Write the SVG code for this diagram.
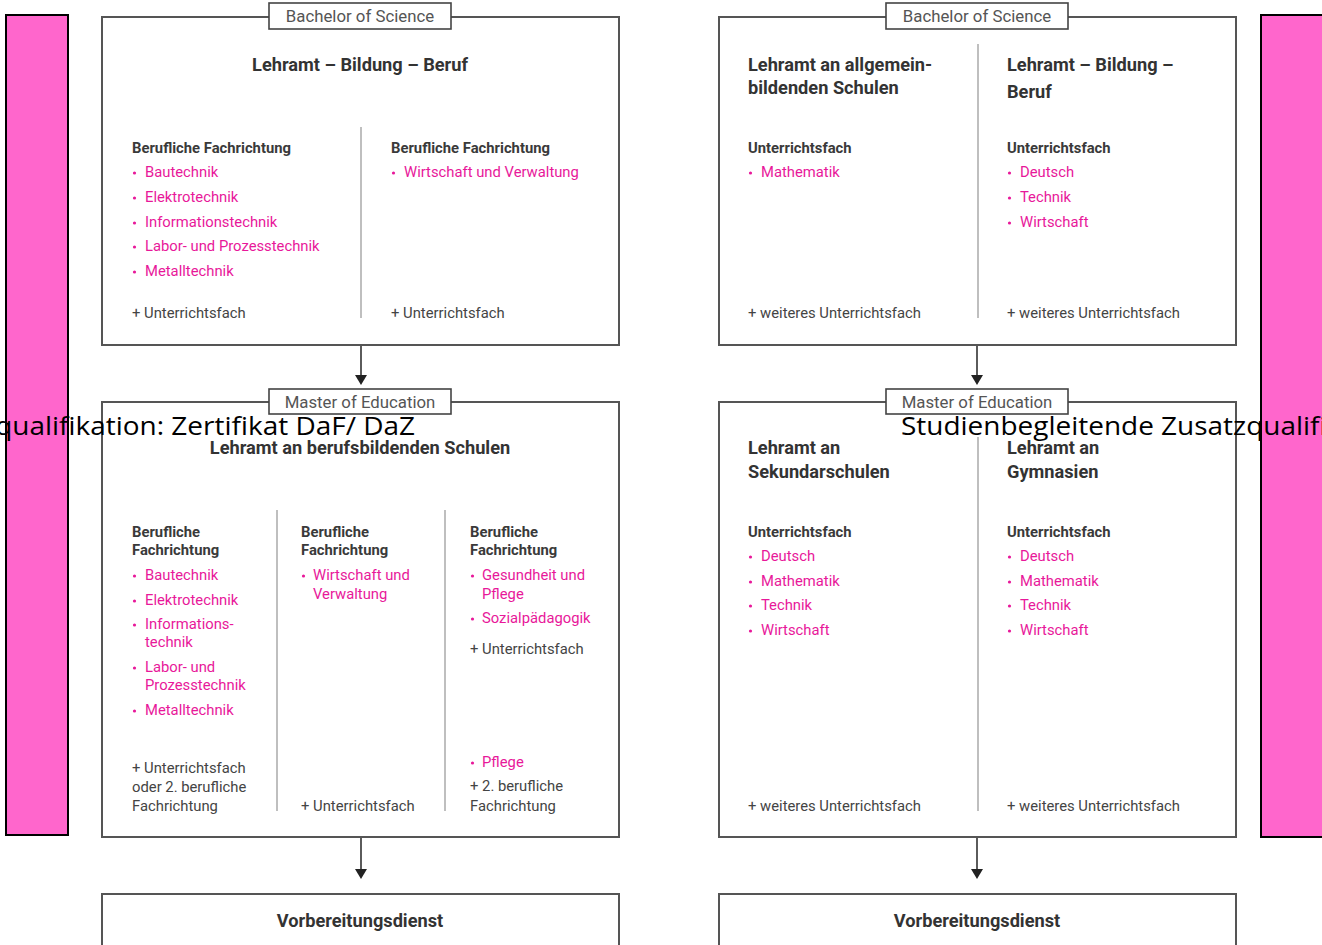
<svg xmlns="http://www.w3.org/2000/svg" width="1322" height="945" viewBox="0 0 1322 945">
<style>
.box{fill:#fff;stroke:#555;stroke-width:2}
.tab{fill:#fff;stroke:#444;stroke-width:1.6}
.tabt{font-family:Roboto,"Liberation Sans",sans-serif;font-size:16.8px;fill:#555;text-anchor:middle}
.title{font-family:Roboto,"Liberation Sans",sans-serif;font-size:18.2px;font-weight:bold;fill:#333}
.mid{text-anchor:middle}
.h{font-family:Roboto,"Liberation Sans",sans-serif;font-size:14.8px;font-weight:bold;fill:#3a3a3a}
.p{font-family:Roboto,"Liberation Sans",sans-serif;font-size:14.8px;fill:#e8189a}
.g{font-family:Roboto,"Liberation Sans",sans-serif;font-size:14.8px;fill:#444}
.div{stroke:#aaa;stroke-width:1.5}
.dot{fill:#e8189a}
.bar{fill:#ff66cc;stroke:#000;stroke-width:2}
.side{font-family:"Open Sans","Noto Sans",sans-serif;font-size:25px;fill:#000}
.conn{stroke:#333;stroke-width:1.6;fill:none}
.head{fill:#222}
</style>

<g id="side-left">
<rect class="bar" x="6" y="15" width="62" height="820"/>
</g>
<g id="side-right">
<rect class="bar" x="1261" y="15" width="70" height="822"/>
</g>

<g id="connectors">
<line class="conn" x1="361" y1="345" x2="361" y2="376"/>
<path class="head" d="M355,375 L367,375 L361,385 Z"/>
<line class="conn" x1="977" y1="345" x2="977" y2="376"/>
<path class="head" d="M971,375 L983,375 L977,385 Z"/>
<line class="conn" x1="361" y1="837" x2="361" y2="870"/>
<path class="head" d="M355,869 L367,869 L361,879 Z"/>
<line class="conn" x1="977" y1="837" x2="977" y2="870"/>
<path class="head" d="M971,869 L983,869 L977,879 Z"/>
</g>

<g id="bsc-left">
<rect class="box" x="102" y="17" width="517" height="328"/>
<rect class="tab" x="269" y="3" width="182" height="26"/>
<text class="tabt" x="360" y="22">Bachelor of Science</text>
<text class="title mid" x="360" y="71">Lehramt – Bildung – Beruf</text>
<line class="div" x1="361" y1="127" x2="361" y2="318"/>
<text class="h" x="132" y="153">Berufliche Fachrichtung</text>
<circle class="dot" cx="134.5" cy="173" r="1.6"/><text class="p" x="145" y="177">Bautechnik</text>
<circle class="dot" cx="134.5" cy="198" r="1.6"/><text class="p" x="145" y="202">Elektrotechnik</text>
<circle class="dot" cx="134.5" cy="223" r="1.6"/><text class="p" x="145" y="227">Informationstechnik</text>
<circle class="dot" cx="134.5" cy="247" r="1.6"/><text class="p" x="145" y="251">Labor- und Prozesstechnik</text>
<circle class="dot" cx="134.5" cy="272" r="1.6"/><text class="p" x="145" y="276">Metalltechnik</text>
<text class="g" x="132" y="318">+ Unterrichtsfach</text>
<text class="h" x="391" y="153">Berufliche Fachrichtung</text>
<circle class="dot" cx="393.5" cy="173" r="1.6"/><text class="p" x="404" y="177">Wirtschaft und Verwaltung</text>
<text class="g" x="391" y="318">+ Unterrichtsfach</text>
</g>

<g id="bsc-right">
<rect class="box" x="719" y="17" width="517" height="328"/>
<rect class="tab" x="886" y="3" width="182" height="26"/>
<text class="tabt" x="977" y="22">Bachelor of Science</text>
<line class="div" x1="978" y1="44" x2="978" y2="318"/>
<text class="title" x="748" y="71">Lehramt an allgemein-</text>
<text class="title" x="748" y="94">bildenden Schulen</text>
<text class="h" x="748" y="153">Unterrichtsfach</text>
<circle class="dot" cx="750.5" cy="173" r="1.6"/><text class="p" x="761" y="177">Mathematik</text>
<text class="g" x="748" y="318">+ weiteres Unterrichtsfach</text>
<text class="title" x="1007" y="71">Lehramt – Bildung –</text>
<text class="title" x="1007" y="98">Beruf</text>
<text class="h" x="1007" y="153">Unterrichtsfach</text>
<circle class="dot" cx="1009.5" cy="173" r="1.6"/><text class="p" x="1020" y="177">Deutsch</text>
<circle class="dot" cx="1009.5" cy="198" r="1.6"/><text class="p" x="1020" y="202">Technik</text>
<circle class="dot" cx="1009.5" cy="223" r="1.6"/><text class="p" x="1020" y="227">Wirtschaft</text>
<text class="g" x="1007" y="318">+ weiteres Unterrichtsfach</text>
</g>

<g id="med-left">
<rect class="box" x="102" y="402" width="517" height="435"/>
<rect class="tab" x="269" y="389" width="182" height="25"/>
<text class="tabt" x="360" y="408">Master of Education</text>
<text class="title mid" x="360" y="454">Lehramt an berufsbildenden Schulen</text>
<line class="div" x1="277" y1="510" x2="277" y2="811"/>
<line class="div" x1="445" y1="510" x2="445" y2="811"/>
<text class="h" x="132" y="537">Berufliche</text>
<text class="h" x="132" y="555">Fachrichtung</text>
<circle class="dot" cx="134.5" cy="576" r="1.6"/><text class="p" x="145" y="580">Bautechnik</text>
<circle class="dot" cx="134.5" cy="601" r="1.6"/><text class="p" x="145" y="605">Elektrotechnik</text>
<circle class="dot" cx="134.5" cy="625" r="1.6"/><text class="p" x="145" y="629">Informations-</text>
<text class="p" x="145" y="647">technik</text>
<circle class="dot" cx="134.5" cy="668" r="1.6"/><text class="p" x="145" y="672">Labor- und</text>
<text class="p" x="145" y="690">Prozesstechnik</text>
<circle class="dot" cx="134.5" cy="711" r="1.6"/><text class="p" x="145" y="715">Metalltechnik</text>
<text class="g" x="132" y="773">+ Unterrichtsfach</text>
<text class="g" x="132" y="792">oder 2. berufliche</text>
<text class="g" x="132" y="811">Fachrichtung</text>
<text class="h" x="301" y="537">Berufliche</text>
<text class="h" x="301" y="555">Fachrichtung</text>
<circle class="dot" cx="303.5" cy="576" r="1.6"/><text class="p" x="313" y="580">Wirtschaft und</text>
<text class="p" x="313" y="599">Verwaltung</text>
<text class="g" x="301" y="811">+ Unterrichtsfach</text>
<text class="h" x="470" y="537">Berufliche</text>
<text class="h" x="470" y="555">Fachrichtung</text>
<circle class="dot" cx="472.5" cy="576" r="1.6"/><text class="p" x="482" y="580">Gesundheit und</text>
<text class="p" x="482" y="599">Pflege</text>
<circle class="dot" cx="472.5" cy="619" r="1.6"/><text class="p" x="482" y="623">Sozialpädagogik</text>
<text class="g" x="470" y="654">+ Unterrichtsfach</text>
<circle class="dot" cx="472.5" cy="763" r="1.6"/><text class="p" x="482" y="767">Pflege</text>
<text class="g" x="470" y="791">+ 2. berufliche</text>
<text class="g" x="470" y="811">Fachrichtung</text>
</g>

<g id="med-right">
<rect class="box" x="719" y="402" width="517" height="435"/>
<rect class="tab" x="886" y="389" width="182" height="25"/>
<text class="tabt" x="977" y="408">Master of Education</text>
<line class="div" x1="978" y1="437" x2="978" y2="811"/>
<text class="title" x="748" y="454">Lehramt an</text>
<text class="title" x="748" y="478">Sekundarschulen</text>
<text class="h" x="748" y="537">Unterrichtsfach</text>
<circle class="dot" cx="750.5" cy="557" r="1.6"/><text class="p" x="761" y="561">Deutsch</text>
<circle class="dot" cx="750.5" cy="582" r="1.6"/><text class="p" x="761" y="586">Mathematik</text>
<circle class="dot" cx="750.5" cy="606" r="1.6"/><text class="p" x="761" y="610">Technik</text>
<circle class="dot" cx="750.5" cy="631" r="1.6"/><text class="p" x="761" y="635">Wirtschaft</text>
<text class="g" x="748" y="811">+ weiteres Unterrichtsfach</text>
<text class="title" x="1007" y="454">Lehramt an</text>
<text class="title" x="1007" y="478">Gymnasien</text>
<text class="h" x="1007" y="537">Unterrichtsfach</text>
<circle class="dot" cx="1009.5" cy="557" r="1.6"/><text class="p" x="1020" y="561">Deutsch</text>
<circle class="dot" cx="1009.5" cy="582" r="1.6"/><text class="p" x="1020" y="586">Mathematik</text>
<circle class="dot" cx="1009.5" cy="606" r="1.6"/><text class="p" x="1020" y="610">Technik</text>
<circle class="dot" cx="1009.5" cy="631" r="1.6"/><text class="p" x="1020" y="635">Wirtschaft</text>
<text class="g" x="1007" y="811">+ weiteres Unterrichtsfach</text>
</g>

<g id="vd-left">
<rect class="box" x="102" y="894" width="517" height="70"/>
<text class="title mid" x="360" y="927">Vorbereitungsdienst</text>
</g>
<g id="vd-right">
<rect class="box" x="719" y="894" width="517" height="70"/>
<text class="title mid" x="977" y="927">Vorbereitungsdienst</text>
</g>

<g id="side-labels">
<text class="side" x="-350" y="435" textLength="765" lengthAdjust="spacingAndGlyphs">Studienbegleitende Zusatzqualifikation: Zertifikat DaF/ DaZ</text>
<text class="side" x="901" y="435" textLength="765" lengthAdjust="spacingAndGlyphs">Studienbegleitende Zusatzqualifikation: Zertifikat DaF/ DaZ</text>
</g>
</svg>
